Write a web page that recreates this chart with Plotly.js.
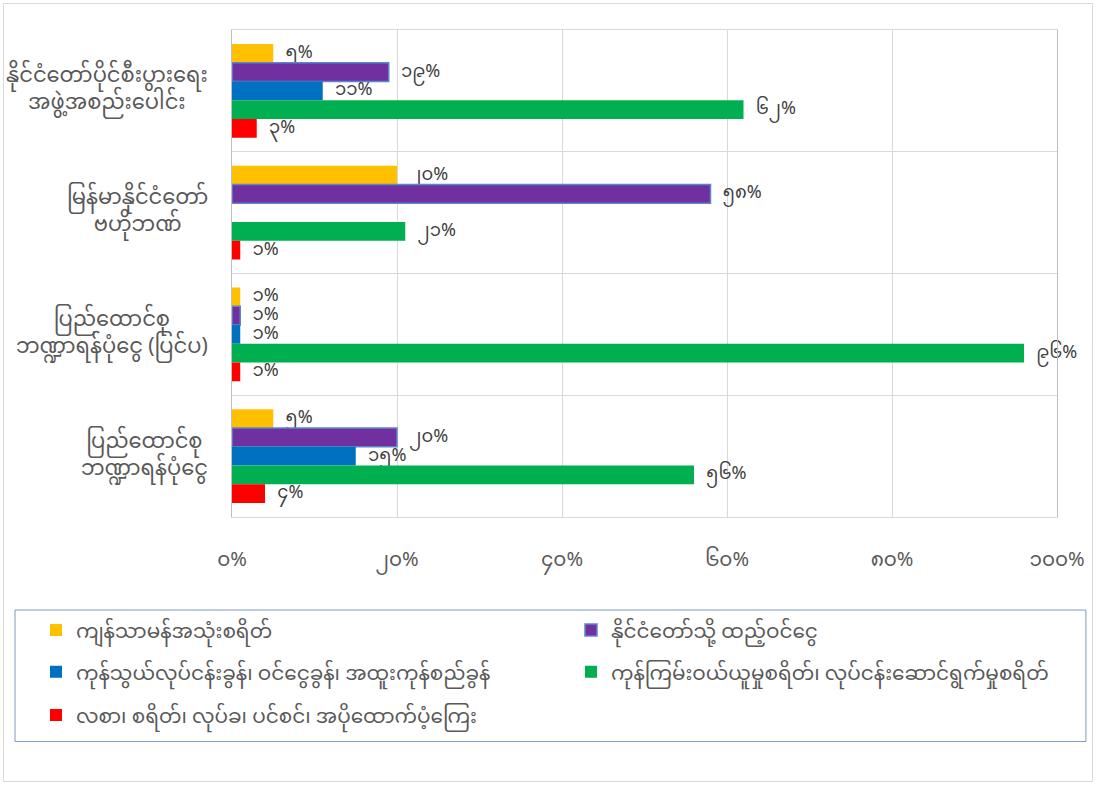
<!DOCTYPE html>
<html>
<head>
<meta charset="utf-8">
<script src="https://cdn.plot.ly/plotly-3.0.1.min.js"></script>
<style>
  html, body { margin: 0; padding: 0; background: #fff; }
  #frame { position: absolute; left: 3px; top: 3px; width: 1090px; height: 779px; border: 1px solid #d9d9d9; box-sizing: border-box; }
  #chart { position: absolute; left: 0; top: 0; width: 1097px; height: 785px; }
</style>
</head>
<body>
<div id="frame"></div>
<div id="chart"></div>
<script>
// Categories (top to bottom)
const categories = [
  "နိုင်ငံတော်ပိုင်စီးပွားရေး<br>အဖွဲ့အစည်းပေါင်း",
  "မြန်မာနိုင်ငံတော်<br>ဗဟိုဘဏ်",
  "ပြည်ထောင်စု<br>ဘဏ္ဍာရန်ပုံငွေ (ပြင်ပ)",
  "ပြည်ထောင်စု<br>ဘဏ္ဍာရန်ပုံငွေ"
];

// Series names
const seriesNames = [
  "ကျန်သာမန်အသုံးစရိတ်",
  "နိုင်ငံတော်သို့ ထည့်ဝင်ငွေ",
  "ကုန်သွယ်လုပ်ငန်းခွန်၊ ဝင်ငွေခွန်၊ အထူးကုန်စည်ခွန်",
  "ကုန်ကြမ်းဝယ်ယူမှုစရိတ်၊ လုပ်ငန်းဆောင်ရွက်မှုစရိတ်",
  "လစာ၊ စရိတ်၊ လုပ်ခ၊ ပင်စင်၊ အပိုထောက်ပံ့ကြေး"
];

// Series values (%), per category
const otherExpenses   = [5, 20, 1, 5];
const contribution    = [19, 58, 1, 20];
const taxes           = [11, 0, 1, 15];
const materials       = [62, 21, 96, 56];
const salaries        = [3, 1, 1, 4];

// X axis ticks
const tickValues = [0, 20, 40, 60, 80, 100];
const tickLabels = ["၀%", "၂၀%", "၄၀%", "၆၀%", "၈၀%", "၁၀၀%"];

const seriesValues = [otherExpenses, contribution, taxes, materials, salaries];
const colors = ["#FFC000", "#7030A0", "#0070C0", "#00B050", "#FF0000"];
const legendIds = ["legend", "legend2", "legend3", "legend4", "legend5"];

const myDigits = "၀၁၂၃၄၅၆၇၈၉";
function toMy(n) { return String(n).split("").map(d => myDigits[+d]).join(""); }

const FONT = '"Noto Sans Myanmar", "Padauk", "Myanmar Text", "Noto Sans", "DejaVu Sans", sans-serif';

const traces = seriesValues.map((vals, i) => ({
  type: "bar",
  orientation: "h",
  name: seriesNames[i],
  y: categories,
  x: vals,
  text: vals.map(v => v > 0 ? "  " + toMy(v) + "%" : ""),
  textposition: "outside",
  constraintext: "none",
  cliponaxis: false,
  textfont: { family: FONT, size: 18, color: "#404040" },
  marker: { color: colors[i], line: { color: "#5B86C9", width: i === 1 ? 1.5 : 0 } },
  legend: legendIds[i],
  hoverinfo: "x+name"
}));

const annotations = categories.map(c => ({
  xref: "paper", yref: "y",
  x: 0, y: c,
  xanchor: "right", yanchor: "middle",
  xshift: -22,
  align: "center",
  text: c,
  showarrow: false,
  font: { family: FONT, size: 21, color: "#595959" }
}));

function mkLegend(x, y) {
  return {
    orientation: "h",
    xref: "paper", yref: "paper",
    x: x, y: y,
    xanchor: "left", yanchor: "middle",
    bgcolor: "rgba(0,0,0,0)",
    font: { family: FONT, size: 20, color: "#595959" }
  };
}

const col1 = -0.2376, col2 = 0.4109;
const row1 = -0.232, row2 = -0.318, row3 = -0.4066;

const layout = {
  width: 1097, height: 785,
  margin: { l: 232, r: 40, t: 30, b: 268 },
  paper_bgcolor: "rgba(0,0,0,0)",
  plot_bgcolor: "#fff",
  barmode: "group",
  bargap: 0.23,
  bargroupgap: 0,
  showlegend: true,
  font: { family: FONT, color: "#595959" },
  xaxis: {
    range: [0, 100],
    tickvals: tickValues,
    ticktext: tickLabels,
    showgrid: true,
    gridcolor: "#d9d9d9",
    gridwidth: 1,
    zeroline: false,
    showline: true,
    linecolor: "#d9d9d9",
    mirror: true,
    ticks: "",
    ticklabelstandoff: 24,
    tickfont: { family: FONT, size: 20, color: "#595959" },
    fixedrange: true
  },
  yaxis: {
    type: "category",
    autorange: "reversed",
    tickson: "boundaries",
    showgrid: true,
    gridcolor: "#d9d9d9",
    showline: true,
    linecolor: "#bfbfbf",
    mirror: true,
    showticklabels: false,
    ticks: "",
    fixedrange: true
  },
  legend:  mkLegend(col1, row1),
  legend2: mkLegend(col2, row1),
  legend3: mkLegend(col1, row2),
  legend4: mkLegend(col2, row2),
  legend5: mkLegend(col1, row3),
  annotations: annotations,
  shapes: [{
    type: "rect", xref: "paper", yref: "paper",
    x0: -0.263, x1: 1.035, y0: -0.461, y1: -0.191,
    line: { color: "#7F9DBE", width: 1 }, fillcolor: "rgba(0,0,0,0)"
  }]
};

Plotly.newPlot("chart", traces, layout, { displayModeBar: false });
</script>
</body>
</html>
